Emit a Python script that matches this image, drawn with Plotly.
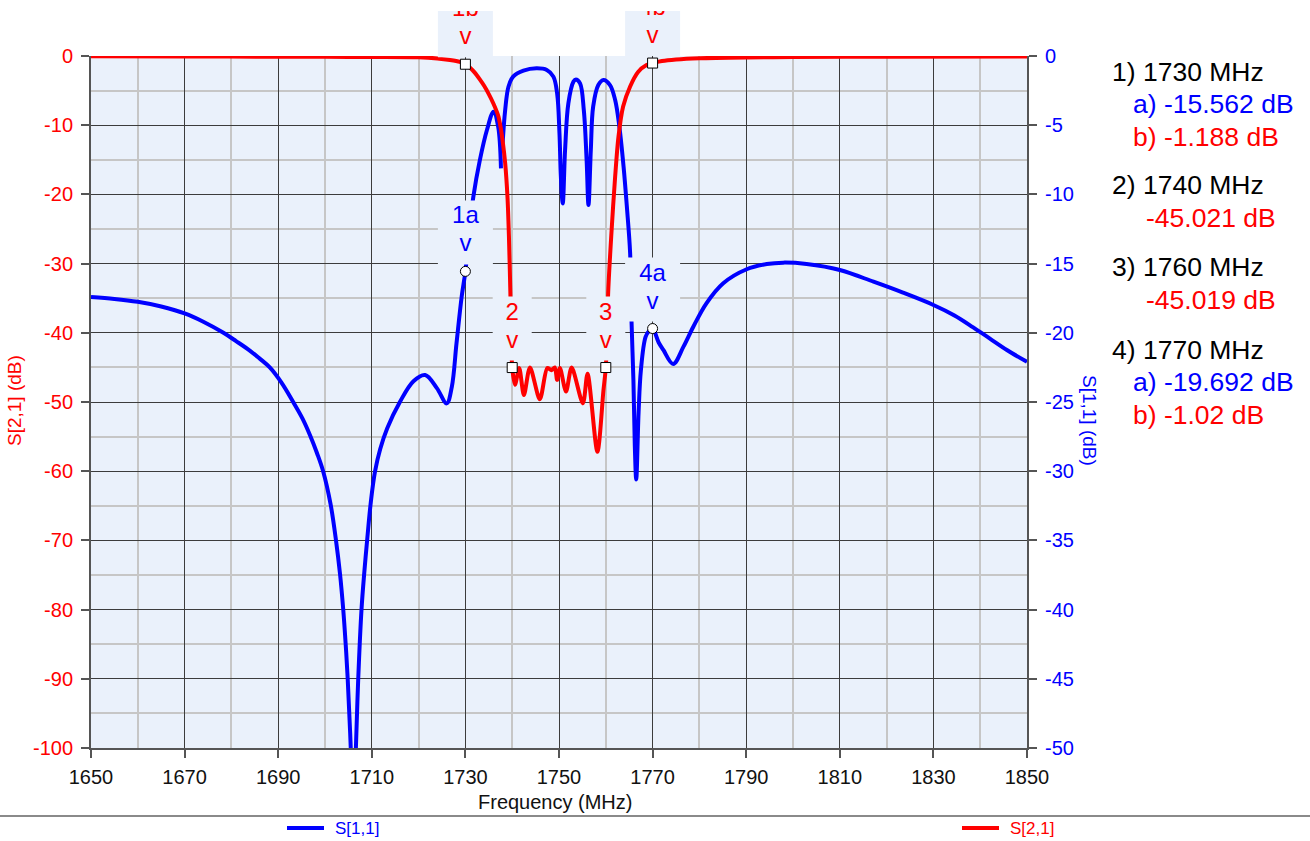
import plotly.graph_objects as go

# ---------------- data ----------------
freq_s11 = [1650, 1655, 1660, 1665, 1670, 1674, 1678.3, 1681, 1684, 1686, 1688.2, 1690.7, 1693.2,
            1695.2, 1696.8, 1698.3, 1699.6, 1701.2, 1702.35, 1703.2, 1703.9, 1704.4, 1704.85,
            1705.5, 1706.0, 1706.6, 1707.1, 1707.8, 1708.4, 1709.0, 1709.8, 1710.7, 1711.8,
            1713.3, 1716.0, 1718.9, 1721.4, 1723.9, 1726, 1727.1, 1728.1, 1729.2,
            1730, 1730.8, 1731.7, 1733.1, 1734.6, 1736.0, 1737.0, 1737.6, None,
            1737.95, 1738.5, 1739.2, 1740.2, 1742.4, 1745.2, 1747.4, 1748.8, 1749.6, 1750.1,
            1750.4, 1750.8, 1751.3, 1752.0, 1753.1, 1753.6, 1754.5, 1755.3, 1755.9, 1756.3,
            1756.8, 1757.3, 1758.4, 1759.5, 1760.9, 1762.0, 1762.9, 1763.8, 1764.5, 1765.2,
            1765.5, 1765.9, 1766.2, 1766.5, 1767.0, 1767.5, 1768.5, 1769.3, 1770, 1771.3,
            1772.3, 1774.4, 1776.6, 1778.7, 1781.5, 1785.1, 1790.1, 1794.4, 1797.9, 1802.9,
            1810.0, 1817.2, 1823.5, 1830.0, 1834.5, 1838.5, 1842.0, 1845.7, 1850]
s11_db = [-17.42, -17.55, -17.76, -18.1, -18.6, -19.2, -20.0, -20.6, -21.3, -21.85, -22.5, -23.6, -25.0,
          -26.2, -27.4, -28.7, -30.0, -32.4, -35.0, -37.4, -40.0, -42.4, -45.0,
          -50.0, -56.0, -50.0, -45.0, -40.0, -37.3, -35.0, -32.2, -30.0, -28.4,
          -26.9, -25.0, -23.5, -23.05, -24.0, -25.1, -23.9, -20.76, -17.39,
          -15.562, -12.8, -10.16, -7.51, -5.35, -4.02, -5.11, -8.12, None,
          -6.31, -3.90, -2.22, -1.49, -1.06, -0.89, -1.01, -1.49, -2.70, -5.59,
          -8.72, -10.65, -6.79, -3.42, -1.85, -1.69, -1.98, -3.90, -7.51, -10.77,
          -6.79, -3.66, -2.10, -1.73, -2.10, -3.18, -5.11, -8.00, -10.89, -14.26,
          -19.2, -23.4, -28.2, -30.6, -25.8, -22.7, -20.3, -19.85, -19.692, -20.7,
          -21.24, -22.25, -21.0, -19.56, -17.87, -16.42, -15.41, -15.03, -14.93, -15.03,
          -15.46, -16.31, -17.1, -17.99, -18.75, -19.61, -20.4, -21.24, -22.1]

freq_s21 = [1650, 1670, 1690, 1700, 1710, 1720, 1724, 1726.7, 1728.8, 1730, 1731, 1732, 1733,
            1734, 1735, 1736, 1737, 1737.5, 1738, 1738.5, 1739, 1739.3, 1739.6, 1739.8, 1740,
            1740.6, 1741.5, 1742.5, 1743.8, 1745.9, 1747.5, 1748.4, 1749.1, 1749.6, 1750.2,
            1751.5, 1752.7, 1755.1, 1756.1, 1758.2, 1759.5, 1760, 1760.3, 1760.5, 1761.2,
            1762.0, 1762.7, 1763.7, 1765.2, 1766.9, 1768.7, 1770, 1772, 1775, 1780, 1790,
            1800, 1820, 1850]
s21_db = [-0.05, -0.07, -0.1, -0.12, -0.14, -0.18, -0.35, -0.58, -0.85, -1.188, -1.7, -2.4, -3.3,
          -4.3, -5.5, -6.9, -8.6, -10.2, -12.5, -15.5, -20.5, -26.0, -34.0, -40.0, -45.021,
          -47.5, -45.1, -49.0, -45.0, -49.6, -45.1, -45.4, -45.0, -46.8, -45.1,
          -48.5, -45.0, -50.2, -45.9, -57.2, -48.3, -45.019, -40.0, -34.3, -25.6,
          -17.4, -11.7, -7.3, -4.4, -2.3, -1.3, -1.02, -0.72, -0.5, -0.32, -0.2,
          -0.15, -0.1, -0.07]

marker_labels = ["1a", "1b", "2", "3", "4a", "4b"]
marker_freq = [1730, 1730, 1740, 1760, 1770, 1770]
marker_val = [-15.562, -1.188, -45.021, -45.019, -19.692, -1.02]
marker_series = ["S11", "S21", "S21", "S21", "S11", "S21"]

readout_text = ["1) 1730 MHz", "a) -15.562 dB", "b) -1.188 dB",
                "2) 1740 MHz", "-45.021 dB",
                "3) 1760 MHz", "-45.019 dB",
                "4) 1770 MHz", "a) -19.692 dB", "b) -1.02 dB"]
readout_kind = ["head", "S11", "S21", "head", "S21", "head", "S21", "head", "S11", "S21"]

x_ticks = list(range(1650, 1851, 20))
x_minor = list(range(1660, 1850, 20))
s21_ticks = list(range(0, -101, -10))
s11_ticks = list(range(0, -51, -5))
s11_minor = [v - 2.5 for v in range(0, -50, -5)]

# ---------------- styling / layout geometry ----------------
BLUE = "#0000FF"
RED = "#FF0000"
BG = "#EAF1FB"
FONT = "Liberation Sans, Arial, sans-serif"
W, H = 1310, 841
L, R, T, B = 91, 283, 11, 93
PW, PH = W - L - R, H - T - B
PLOT_TOP_PX = 56
main_top = (H - B - PLOT_TOP_PX) / PH
s21_range = [-100, 0]
s11_range = [-50, 0]
k = (s21_range[1] - s21_range[0]) / (s11_range[1] - s11_range[0])
mhz_per_px = 200 / PW
db_per_px = (s21_range[1] - s21_range[0]) / (H - B - PLOT_TOP_PX)
y3_top = s21_range[0] + PH * db_per_px

def px_x(X):
    return (X - L) / PW

def px_y(Y):
    return (H - B - Y) / PH

color_of = {"head": "#000000", "S11": BLUE, "S21": RED}

fig = go.Figure()
fig.add_trace(go.Scatter(x=freq_s11, y=s11_db, mode="lines", name="S[1,1]",
                         line=dict(color=BLUE, width=4, shape="spline", smoothing=1.0),
                         xaxis="x", yaxis="y", showlegend=False, hoverinfo="skip",
                         connectgaps=False))
fig.add_trace(go.Scatter(x=freq_s21, y=s21_db, mode="lines", name="S[2,1]",
                         line=dict(color=RED, width=4, shape="spline", smoothing=0.8),
                         xaxis="x", yaxis="y2", showlegend=False, hoverinfo="skip"))

# marker label boxes, markers and labels on an overlay subplot (clipped at its top)
bx, by, mx, my, msym, lab_y, v_y, tcol = [], [], [], [], [], [], [], []
for lab, f, v, s in zip(marker_labels, marker_freq, marker_val, marker_series):
    yv = v * k if s == "S11" else v
    wpx = 55 if len(lab) == 2 else 39
    x0, x1 = f - wpx / 2 * mhz_per_px, f + wpx / 2 * mhz_per_px
    y0, y1 = yv + 7 * db_per_px, yv + 71 * db_per_px
    bx += [x0, x1, x1, x0, x0, None]
    by += [y0, y0, y1, y1, y0, None]
    mx.append(f)
    my.append(yv)
    msym.append("circle" if s == "S11" else "square")
    lab_y.append(yv + 54 * db_per_px)
    v_y.append(yv + 26 * db_per_px)
    tcol.append(BLUE if s == "S11" else RED)

fig.add_trace(go.Scatter(x=bx, y=by, mode="lines", fill="toself", fillcolor=BG,
                         line=dict(width=0, color=BG), xaxis="x2", yaxis="y3",
                         showlegend=False, hoverinfo="skip"))
fig.add_trace(go.Scatter(x=mx, y=my, mode="markers", xaxis="x2", yaxis="y3",
                         marker=dict(symbol=msym, size=10, color="white",
                                     line=dict(color="black", width=1)),
                         showlegend=False, hoverinfo="skip"))
fig.add_trace(go.Scatter(x=mx, y=lab_y, mode="text", text=marker_labels, xaxis="x2", yaxis="y3",
                         textfont=dict(family=FONT, size=24, color=tcol), textposition="middle center",
                         showlegend=False, hoverinfo="skip", cliponaxis=True))
fig.add_trace(go.Scatter(x=mx, y=v_y, mode="text", text=["v"] * len(mx), xaxis="x2", yaxis="y3",
                         textfont=dict(family=FONT, size=24, color=tcol), textposition="middle center",
                         showlegend=False, hoverinfo="skip", cliponaxis=True))

axis_line = dict(showline=True, linecolor="#555555", linewidth=2, zeroline=False)
fig.update_layout(
    width=W, height=H,
    margin=dict(l=L, r=R, t=T, b=B, pad=0, autoexpand=False),
    paper_bgcolor="white", plot_bgcolor="rgba(0,0,0,0)",
    font=dict(family=FONT, size=20, color="black"),
    showlegend=False,
    xaxis=dict(domain=[0, 1], range=[1650, 1850], anchor="y",
               tickmode="array", tickvals=x_ticks, ticktext=[str(t) for t in x_ticks],
               ticks="outside", ticklen=8, tickwidth=1.5, tickcolor="#555555",
               tickfont=dict(size=20, color="#111111"), ticklabelstandoff=2,
               showgrid=True, gridcolor="#3c3c3c", gridwidth=1.3,
               minor=dict(tickmode="array", tickvals=x_minor, showgrid=True,
                          gridcolor="#c6c6c6", gridwidth=1.5, ticks=""),
               automargin=False, **axis_line),
    yaxis=dict(domain=[0, main_top], range=s11_range, anchor="x", side="right",
               tickmode="array", tickvals=s11_ticks, ticktext=[str(t) for t in s11_ticks],
               ticks="outside", ticklen=8, tickwidth=1.5, tickcolor="#555555",
               tickfont=dict(size=20, color=BLUE), ticklabelstandoff=4,
               showgrid=True, gridcolor="#3c3c3c", gridwidth=1.3,
               minor=dict(tickmode="array", tickvals=s11_minor, showgrid=True,
                          gridcolor="#c6c6c6", gridwidth=1.5, ticks=""),
               automargin=False, **axis_line),
    yaxis2=dict(overlaying="y", range=s21_range, anchor="x", side="left",
                tickmode="array", tickvals=s21_ticks, ticktext=[str(t) for t in s21_ticks],
                ticks="outside", ticklen=8, tickwidth=1.5, tickcolor="#555555",
                tickfont=dict(size=20, color=RED), ticklabelstandoff=4,
                showgrid=False, automargin=False, **axis_line),
    xaxis2=dict(domain=[0, 1], range=[1650, 1850], anchor="y3", visible=False,
                showgrid=False, zeroline=False, automargin=False),
    yaxis3=dict(domain=[0, 1], range=[s21_range[0], y3_top], anchor="x2", visible=False,
                showgrid=False, zeroline=False, automargin=False),
)

# plot background (below grid)
fig.add_shape(type="rect", xref="x", yref="y", x0=1650, x1=1850, y0=s11_range[0], y1=s11_range[1],
              fillcolor=BG, line=dict(width=0), layer="below")

# axis titles
fig.add_annotation(text="S[2,1] (dB)", x=px_x(14), y=px_y(401), xref="paper", yref="paper",
                   textangle=-90, showarrow=False, font=dict(size=19, color=RED),
                   xanchor="center", yanchor="middle")
fig.add_annotation(text="S[1,1] (dB)", x=px_x(1090), y=px_y(420), xref="paper", yref="paper",
                   textangle=90, showarrow=False, font=dict(size=19, color=BLUE),
                   xanchor="center", yanchor="middle")
fig.add_annotation(text="Frequency (MHz)", x=px_x(555), y=px_y(802), xref="paper", yref="paper",
                   showarrow=False, font=dict(size=20, color="#111111"),
                   xanchor="center", yanchor="middle")

# marker readout
readout_x = {"head": 1110, "sub": 1131, "plain": 1144}
readout_ypx = [72, 104, 137, 185, 218, 267, 300, 350, 382, 415]
for txt, kind, ypx in zip(readout_text, readout_kind, readout_ypx):
    if kind == "head":
        xx = readout_x["head"]
    elif txt[0] in "ab":
        xx = readout_x["sub"]
    else:
        xx = readout_x["plain"]
    fig.add_annotation(text=txt, x=px_x(xx), y=px_y(ypx), xref="paper", yref="paper",
                       showarrow=False, xanchor="left", yanchor="middle",
                       font=dict(size=26.5, color=color_of[kind]))

# legend area
fig.add_shape(type="line", xref="paper", yref="paper", x0=px_x(0), x1=px_x(W),
              y0=px_y(816), y1=px_y(816), line=dict(color="#8a8a8a", width=2))
legend_items = [("S[1,1]", BLUE, 287), ("S[2,1]", RED, 962)]
for name, col, x0 in legend_items:
    fig.add_shape(type="line", xref="paper", yref="paper", x0=px_x(x0), x1=px_x(x0 + 37),
                  y0=px_y(828), y1=px_y(828), line=dict(color=col, width=4))
    fig.add_annotation(text=name, x=px_x(x0 + 46), y=px_y(828), xref="paper", yref="paper",
                       showarrow=False, xanchor="left", yanchor="middle",
                       font=dict(size=17, color=col))

fig.write_html("out.html", config={"displayModeBar": False},
               post_script="document.body.style.margin='0';document.body.style.overflow='hidden';")
